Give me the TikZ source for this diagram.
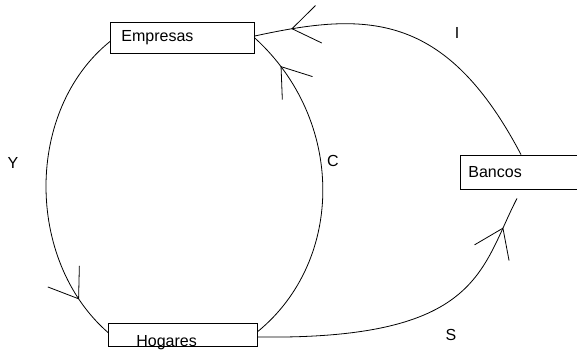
\documentclass[tikz,border=0pt]{standalone}
\usepackage{fontspec}
\setmainfont{Liberation Sans}
\usetikzlibrary{arrows.meta}
\usetikzlibrary{decorations.markings}
\usetikzlibrary{calc}

\begin{document}
\begin{tikzpicture}[x=1pt, y=-1pt, line width=0.8pt,
	font=\fontsize{16}{19}\selectfont,
	sector/.style={draw, rectangle, anchor=west, align=left, inner ysep=0pt},
	flow/.style={postaction={decorate}, decoration={markings,
		mark=at position #1 with {\arrow{Straight Barb[length=27pt, width=38pt]}}}}]
	\useasboundingbox (0,0) rectangle (577,350);
	\clip (0,0) rectangle (577,350);
	% the three sectors
	\node[sector, minimum width=144pt, minimum height=31pt,
	inner xsep=11pt, text width=122pt] (Empresas) at (110,37.5) {Empresas};
	\node[sector, text height=23pt, text depth=0pt,
	inner xsep=28pt, text width=93pt] (Hogares) at (108,334.5) {Hogares};
	\node[sector, minimum width=160pt, minimum height=34pt,
	inner xsep=8pt, text width=144pt] (Bancos) at (460,172) {Bancos};
	\coordinate (IOut) at ($(Bancos.north west)+(61,0)$);
	\coordinate (SIn) at ($(Bancos.south west)+(57,9)$);
	% flows
	\draw[flow=0.865] ($(Empresas.west)+(0,4)$) .. controls (25,110) and (25,260) .. ($(Hogares.west)+(0,-2)$);
	\draw[flow=0.885] ($(Hogares.east)+(0,-3)$) .. controls (345,260) and (345,120) .. ($(Empresas.east)+(0,0.5)$);
	\draw[flow=0.885] (IOut) .. controls (445,10) and (365,12) .. ($(Empresas.east)+(0,-1.5)$);
	\draw[flow=0.9] ($(Hogares.east)+(0,2.5)$) .. controls (480,340) and (480,270) .. (SIn);
	% labels
	\node (lblY) at (13,163) {Y};
	\node (lblC) at (333,161) {C};
	\node (lblI) at (457,33) {I};
	\node (lblS) at (451,335) {S};
\end{tikzpicture}
\end{document}
